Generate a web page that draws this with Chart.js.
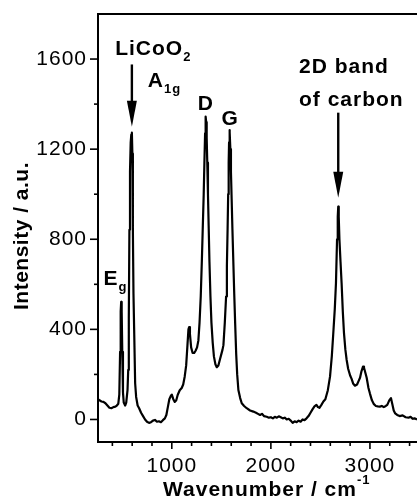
<!DOCTYPE html>
<html>
<head>
<meta charset="utf-8">
<script src="https://cdn.jsdelivr.net/npm/chart.js"></script>
<style>
  html, body { margin: 0; padding: 0; background: #fff; }
  #wrap { width: 417px; height: 500px; }
</style>
</head>
<body>
<div id="wrap"><canvas id="raman"></canvas></div>
<script>
// Raman spectrum (10 points per row in both arrays)
const wavenumbers = [
  255, 270, 290, 310, 330, 350, 370, 390, 410, 430,
  445, 460, 470, 478, 484, 489, 494, 500, 507, 515,
  529, 540, 553, 560, 566, 572, 578, 585, 591, 597,
  602, 607, 613, 620, 630, 640, 655, 670, 690, 710,
  730, 750, 770, 790, 810, 830, 850, 870, 890, 910,
  930, 945, 960, 975, 990, 1000, 1015, 1030, 1045, 1060,
  1080, 1100, 1115, 1130, 1145, 1158, 1168, 1175, 1183, 1195,
  1210, 1225, 1240, 1255, 1268, 1280, 1292, 1303, 1312, 1322,
  1329, 1336, 1340, 1343, 1347, 1352, 1358, 1365, 1372, 1380,
  1390, 1400, 1413, 1425, 1440, 1454, 1470, 1485, 1500, 1512,
  1521, 1535, 1548, 1556, 1563, 1569, 1574, 1578, 1582, 1586,
  1591, 1597, 1604, 1612, 1621, 1630, 1640, 1650, 1660, 1672,
  1690, 1706, 1730, 1756, 1790, 1823, 1850, 1870, 1891, 1910,
  1930, 1958, 1980, 2000, 2020, 2040, 2060, 2080, 2100, 2120,
  2140, 2160, 2180, 2200, 2220, 2240, 2260, 2280, 2300, 2320,
  2340, 2360, 2380, 2400, 2420, 2440, 2460, 2475, 2490, 2510,
  2530, 2550, 2575, 2597, 2615, 2630, 2645, 2657, 2668, 2675,
  2680, 2685, 2692, 2703, 2714, 2726, 2738, 2752, 2765, 2780,
  2800, 2815, 2830, 2849, 2870, 2885, 2900, 2915, 2930, 2940,
  2955, 2967, 2985, 3000, 3020, 3040, 3060, 3080, 3100, 3120,
  3140, 3160, 3175, 3195, 3212, 3225, 3240, 3255, 3275, 3300,
  3330, 3360, 3390, 3410, 3430, 3450, 3475
];
const intensity = [
  90, 85, 80, 78, 72, 62, 52, 50, 55, 57,
  62, 70, 110, 300, 480, 522, 480, 300, 120, 75,
  62, 75, 130, 220, 450, 842, 1100, 1230, 1265, 1273,
  1180, 842, 560, 398, 161, 100, 62, 50, 30, 15,
  0, -10, -15, -12, -5, -2, -10, -8, -12, -3,
  5, 20, 55, 90, 105, 110, 90, 78, 85, 110,
  130, 140, 155, 190, 240, 330, 400, 410, 380, 320,
  295, 295, 305, 320, 350, 430, 546, 700, 842, 1000,
  1140, 1270, 1330, 1345, 1320, 1250, 1140, 1000, 860, 700,
  546, 430, 340, 280, 245, 232, 240, 265, 290, 310,
  330, 430, 546, 680, 842, 1000, 1140, 1230, 1285, 1275,
  1200, 1100, 980, 842, 700, 560, 420, 290, 200, 131,
  95, 72, 60, 50, 40, 35, 30, 25, 20, 25,
  15, 12, 8, 10, 5, 12, 8, 14, 10, 5,
  8, 0, 3, -5, -15, -8, -12, -5, -10, 0,
  -3, 5, 15, 30, 45, 58, 65, 55, 52, 65,
  80, 90, 130, 190, 280, 383, 490, 605, 800, 900,
  945, 900, 800, 700, 605, 480, 383, 310, 264, 225,
  195, 180, 160, 150, 155, 170, 185, 215, 235, 230,
  205, 185, 140, 115, 85, 68, 60, 58, 57, 60,
  55, 60, 65, 85, 95, 70, 40, 27, 20, 15,
  18, 10, 8, 12, 3, 5, 0
];
const xTickValues = [400, 600, 800, 1000, 1200, 1400, 1600, 1800, 2000, 2200, 2400, 2600, 2800, 3000, 3200, 3400];
const xMajor = [1000, 2000, 3000];
const yTickValues = [0, 200, 400, 600, 800, 1000, 1200, 1400, 1600];
const yMajor = [0, 400, 800, 1200, 1600];

const FONT = "'Liberation Sans', Arial, Helvetica, sans-serif";

// tick marks, top frame line, axis titles and peak labels
const decorations = {
  id: "decorations",
  beforeDraw(chart) {
    // the original lettering runs a little wide
    chart.ctx.letterSpacing = "1px";
  },
  afterDraw(chart) {
    const { ctx, chartArea: a, scales: { x, y } } = chart;
    ctx.save();
    ctx.letterSpacing = "1px";
    ctx.strokeStyle = "#000";
    ctx.fillStyle = "#000";
    ctx.lineWidth = 2;

    // top frame
    ctx.beginPath();
    ctx.moveTo(a.left - 1, a.top);
    ctx.lineTo(a.right, a.top);
    ctx.stroke();

    // ticks, outward
    ctx.lineWidth = 1.6;
    x.ticks.forEach(t => {
      const px = x.getPixelForValue(t.value);
      const len = xMajor.includes(t.value) ? 7 : 4;
      ctx.beginPath();
      ctx.moveTo(px, a.bottom);
      ctx.lineTo(px, a.bottom + len);
      ctx.stroke();
    });
    y.ticks.forEach(t => {
      const py = y.getPixelForValue(t.value);
      const len = yMajor.includes(t.value) ? 8 : 4;
      ctx.beginPath();
      ctx.moveTo(a.left, py);
      ctx.lineTo(a.left - len, py);
      ctx.stroke();
    });

    // text with a sub/superscript
    function label(txt, sub, sup, px, py, size, align) {
      ctx.font = "bold " + size + "px " + FONT;
      const w = ctx.measureText(txt).width;
      const sx = align === "center" ? px - w / 2 : px;
      ctx.textAlign = "left";
      ctx.textBaseline = "alphabetic";
      ctx.fillText(txt, sx, py);
      ctx.font = "bold " + Math.round(size * 0.62) + "px " + FONT;
      if (sub) ctx.fillText(sub, sx + w, py + size * 0.3);
      if (sup) ctx.fillText(sup, sx + w, py - size * 0.55);
    }
    function arrow(px, y0, y1) {
      ctx.lineWidth = 2.4;
      ctx.beginPath();
      ctx.moveTo(px, y0);
      ctx.lineTo(px, y1 - 14);
      ctx.stroke();
      ctx.beginPath();
      ctx.moveTo(px, y1);
      ctx.lineTo(px - 5, y1 - 26);
      ctx.lineTo(px + 5, y1 - 26);
      ctx.closePath();
      ctx.fill();
    }

    const X = v => x.getPixelForValue(v);
    const Y = v => y.getPixelForValue(v);

    label("LiCoO", "2", null, X(428), Y(1620), 21);
    arrow(X(597), Y(1576), Y(1300));
    label("A", "1g", null, X(758), Y(1476), 21);
    label("D", null, null, X(1343), Y(1376), 21, "center");
    label("G", null, null, X(1588), Y(1309), 21, "center");
    label("2D band", null, null, X(2284), Y(1539), 21);
    label("of carbon", null, null, X(2284), Y(1393), 21);
    arrow(X(2680), Y(1362), Y(984));
    label("E", "g", null, X(310), Y(598), 21);

    // axis titles
    label("Wavenumber / cm", null, "-1", 163, 496, 21);
    ctx.save();
    ctx.letterSpacing = "0.5px";
    ctx.translate(28, 236);
    ctx.rotate(-Math.PI / 2);
    ctx.font = "bold 21px " + FONT;
    ctx.textAlign = "center";
    ctx.textBaseline = "alphabetic";
    ctx.fillText("Intensity / a.u.", 0, 0);
    ctx.restore();

    ctx.restore();
  }
};

new Chart(document.getElementById("raman"), {
  type: "line",
  data: {
    datasets: [{
      data: wavenumbers.map((w, i) => ({ x: w, y: intensity[i] })),
      borderColor: "#000",
      borderWidth: 2.2,
      borderJoinStyle: "round",
      pointRadius: 0,
      tension: 0,
      fill: false
    }]
  },
  options: {
    responsive: true,
    maintainAspectRatio: false,
    animation: false,
    layout: { padding: { top: 14, right: 0, left: 0, bottom: 0 } },
    plugins: { legend: { display: false }, tooltip: { enabled: false } },
    scales: {
      x: {
        type: "linear",
        min: 255,
        max: 3475,
        grid: { display: false, drawTicks: false },
        border: { display: true, color: "#000", width: 2 },
        afterBuildTicks(s) { s.ticks = xTickValues.map(v => ({ value: v })); },
        ticks: {
          autoSkip: false,
          maxRotation: 0,
          padding: 12,
          color: "#000",
          font: { family: FONT, size: 21 },
          callback: v => (xMajor.includes(v) ? String(v) : "")
        },
        afterFit(s) { s.height = 58; s.paddingLeft = 0; s.paddingRight = 0; }
      },
      y: {
        min: -100,
        max: 1800,
        grid: { display: false, drawTicks: false },
        border: { display: true, color: "#000", width: 2 },
        afterBuildTicks(s) { s.ticks = yTickValues.map(v => ({ value: v })); },
        ticks: {
          autoSkip: false,
          padding: 11,
          color: "#000",
          font: { family: FONT, size: 21 },
          callback: v => (yMajor.includes(v) ? String(v) : "")
        },
        afterFit(s) { s.width = 98; s.paddingTop = 0; s.paddingBottom = 0; }
      }
    }
  },
  plugins: [decorations]
});
</script>
</body>
</html>
